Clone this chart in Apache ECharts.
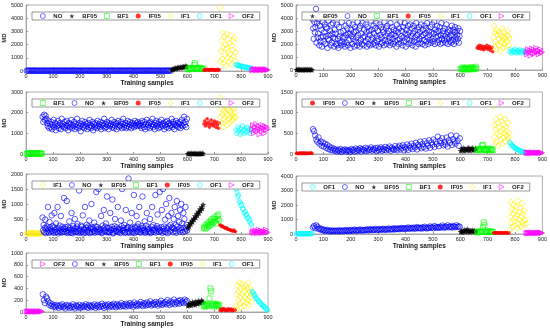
<!DOCTYPE html>
<html><head><meta charset="utf-8">
<script src="https://cdn.jsdelivr.net/npm/echarts@6/dist/echarts.min.js"></script>
<style>html,body{margin:0;padding:0;background:#fff}#c{width:550px;height:332px}</style>
</head><body><div id="c"></div>
<script>
// ---- tick / axis settings ----
const xTicks = [0,100,200,300,400,500,600,700,800,900];
const yMaxes = [5000,5000,3000,1500,2000,4000,1000];
const yIntervals = [1000,1000,1000,500,500,1000,200];

// ---- class order per panel (x order == legend order) ----
const p1Order = ['NO','BF05','BF1','IF05','IF1','OF1','OF2'];
const p2Order = ['BF05','NO','BF1','IF05','IF1','OF1','OF2'];
const p3Order = ['BF1','NO','BF05','IF05','IF1','OF1','OF2'];
const p4Order = ['IF05','NO','BF05','BF1','IF1','OF1','OF2'];
const p5Order = ['IF1','NO','BF05','BF1','IF05','OF1','OF2'];
const p6Order = ['OF1','NO','BF05','BF1','IF05','IF1','OF2'];
const p7Order = ['OF2','NO','BF05','BF1','IF05','IF1','OF1'];

// ---- panel 1 (NO model) ----
const p1_NO = [20,35,12,40,25,8,30,45,18,27,10,38,22,15,33,28,5,41,19,26,14,36,24,9,31,44,17,29,11,37,21,16,34,27,6,42,20,25,13,39,23,10,32,46,18,30,12,36,22,15,35,28,7,40,19,26,14,38,24,9,31,43,17,29,11,37,21,16,33,27,6,41,20,25,13,39,23,10,32,45,18,30,12,36,22,15,35,28,7,40,19,26,14,38,24,9,31,43,17,29,11,37,21,16,33,27,6,41,20,25,13,39,23,10,32,45,18,30,12,36,22,15,35,28,7,40,19,26,14,38,24,9,31,43,17];
const p1_BF05 = [90,150,120,200,170,230,190,260,220,280,250,310,240,330,290,350,300,380,320,360];
const p1_BF1 = [120,180,150,220,130,200,250,170,460,600,210,160,230,140,190,250,170,210,150,190];
const p1_IF05 = [60,110,40,90,130,70,100,50,120,80,140,60,90,110,40,100,70,130,50,90];
const p1_IF1 = [4800,700,1500,2300,900,2900,1800,600,2600,1200,2000,400,1700,2800,1000,2400,1500,700,2100,1300,2700,900,1900,500,1600,2300,1100,2500,800,1400];
const p1_OF1 = [480,450,430,420,400,380,370,350,340,320,300,290,280,260,250,240,230,220,210,200];
const p1_OF2 = [60,120,90,150,40,110,80,140,70,130,50,100,160,90,60,120,80,140,100,70];

// ---- panel 2 (BF05 model) ----
const p2_BF05 = [20,40,10,50,30,15,45,25,5,35,20,50,10,40,30,15,45,25,35,20];
const p2_NO = [3900,3200,2400,3700,2900,3300,4700,2100,3600,2500,2800,3900,1900,3400,2200,2500,3100,1800,3700,2600,
  2200,2900,3500,2000,3300,2600,3200,1700,2400,3800,2300,2700,3000,1900,3500,2100,2800,3600,2500,1800,
  3100,2400,2800,2000,3500,1900,2400,1700,3300,2600,2100,2900,1900,3700,2200,2500,3000,2000,2500,1800,
  3400,2700,2100,3200,1900,2800,3600,2300,2800,1700,3100,2600,2000,3500,2400,2900,1800,3300,2200,3000,
  2500,1900,3700,2700,2100,3200,1800,3400,2300,2800,2000,3600,2500,1900,3100,2600,2200,3500,2900,1800,
  3300,2400,2000,3000,2700,1900,3800,2300,3100,2500,2000,3400,2800,2100,3200,1900,3600,2600,2200,3000,
  2400,1800,3500,2700,2000,3300,2500,2100,3100,2900,1900,3700,2300,2600,3200,2000,3400,2800,2200,3000,
  2500,1900,3600,2100,2700,3300,2400,2000,3100,2800,2200,2600,3000,1800,3500,2300,2900,2000,3200,2400,
  3700,2100,2600,3000,1900,3300,2500,2200,3600,2800,1800,3100,2400,2700,3400,2000,2900,2300,3500,2100,
  2600,3200,1900,2800,3400,2200,3000,2500,1800,3600,2300,2700,3100,2000,3300,2400,2900,2100,3500,2600,
  2000,3100,2700,2300,3400,1900,2800,3200,2200,3600,2500,2000,3000,2700,2300,3300,2100,2900,3500,2400,
  2200,2800,3700,2000,3100,2500,2900,3400,2100,2600,3000,2300,3300,2000,2700,3600,2400,2100,3000,2800,
  2300,3200,2600,2100,3500,2400,2900,2000,3100,2500,2200,3000,2700,2100,3400,2600,2300,3100,2000,2900,
  3300,2500,2200,3000,2700,2400,3200,2100,2600,3000];
const p2_BF1 = [50,120,80,200,30,150,100,60,180,90,40,130,70,220,110,50,160,80,250,100];
const p2_IF05 = [1700,1800,1650,1900,1750,1600,1850,1700,1550,1800,1650,1750,1900,1600,1700,1800,1500,1650,1750,1400];
const p2_IF1 = [2500,3400,1800,2900,2200,3100,1600,2700,2000,3000,2400,1900,2800,1500,2600,2100,3200,2300,1700,2500,2900,2000,2400,1800,2700,2200,3000,2600,1900,2400];
const p2_OF1 = [1400,1550,1300,1450,1500,1350,1600,1400,1300,1500,1450,1350,1550,1400,1300,1450,1500,1350,1400,1450];
const p2_OF2 = [1400,1200,1600,1350,1500,1100,1450,1650,1300,1550,1250,1400,1700,1350,1500,1200,1450,1600,1300,1400];

// ---- panel 3 (BF1 model) ----
const p3_BF1 = [10,30,5,25,15,35,20,8,28,12,32,18,6,26,14,34,22,9,30,16];
const p3_NO = [1800,1550,1900,1650,1850,1700,1500,1350,1600,1250,1450,1300,1550,1200,1400,1650,1300,1500,1150,1450,1350,1600,1250,1400,1500,1200,1700,1350,1450,1300,1550,1250,1400,1600,1350,1150,1500,1300,1450,1650,1250,1400,1350,1550,1200,1450,1300,1700,1400,1250,1500,1350,1100,1450,1600,1300,1400,1250,1550,1350,1450,1200,1500,1300,1650,1400,1250,1350,1550,1150,1450,1300,1500,1400,1250,1600,1350,1450,1300,1550,1200,1400,1500,1350,1700,1250,1450,1300,1550,1400,1200,1500,1350,1450,1650,1300,1400,1250,1550,1350,1450,1200,1500,1600,1300,1400,1350,1550,1250,1450,1700,1300,1400,1500,1250,1350,1600,1450,1300,1550,1400,1250,1500,1350,1450,1300,1600,1400,1500,1350,1550,1450,1400,
  1350,1500,1250,1600,1400,1300,1550,1200,1450,1650,1300,1400,1500,1250,1550,1350,1450,1700,1300,1400,1200,1500,1600,1350,1450,1250,1550,1400,1300,1650,1450,1350,1500,1200,1400,1550,1300,1600,1450,1250,1500,1350,1400,1700,1300,1550,1450,1200,1400,1600,1350,1500,1300,1450,1550,1250,1400,1650,1350,1500,1800,1400,1550,1300,1700];
const p3_BF05 = [15,30,8,25,20,35,10,28,18,32,12,24,6,30,16,26,22,10,34,20];
const p3_IF05 = [1450,1600,1350,1500,1700,1400,1550,1300,1450,1650,1400,1500,1350,1600,1450,1300,1550,1400,1250,1500];
const p3_IF1 = [2700,1800,2200,1500,2400,1900,1300,2100,1700,2500,2000,1600,2300,1400,1900,2200,1700,2100,1500,2400,1800,2000,1600,2300,1900,1700,2200,1800,2000,1750];
const p3_OF1 = [1150,1000,1300,1100,1200,950,1250,1050,1350,1150,1000,1200,1100,1300,1050,1250,1150,1000,1200,1100];
const p3_OF2 = [1200,1400,1000,1300,1150,1450,1100,1250,1350,950,1200,1300,1100,1400,1250,1000,1350,1150,1300,1200];

// ---- panel 4 (IF05 model) ----
const p4_IF05 = [10,25,5,20,15,30,8,22,12,28,18,6,24,14,26,10,20,16,28,12];
const p4_NO = [600,550,450,350,300,400,250,300,200,280,180,250,150,220,120,180,100,150,90,130,80,110,60,100,70,120,50,90,80,110,60,100,70,90,50,120,80,100,60,130,70,110,90,140,60,120,100,80,150,70,130,90,110,160,80,120,100,140,70,150,90,120,160,80,130,100,170,90,140,110,180,80,150,120,100,190,130,90,160,200,110,150,210,90,170,130,230,100,190,150,250,120,200,160,270,110,220,180,300,140,240,170,310,130,260,200,330,150,280,220,350,170,300,240,420,190,320,260,380,210,290,230,400,180,330,270,450,220,360,300,250,440,320,200,380];
const p4_BF05 = [80,120,100,150,70,130,110,90,140,100,160,80,120,110,150,90,130,100,140,120];
const p4_BF1 = [100,110,90,120,100,130,200,220,110,100,90,120,110,100,130,90,120,100,110,90];
const p4_IF1 = [1150,400,700,250,600,850,300,500,750,200,650,450,900,350,550,800,250,600,400,700,500,850,300,650,450,550,350,750,400,500];
const p4_OF1 = [280,240,220,200,180,160,150,130,120,110,100,90,80,70,60,55,50,45,40,35];
const p4_OF2 = [30,20,40,25,35,15,30,45,20,35,25,40,30,20,35,25,30,40,20,30];

// ---- panel 5 (IF1 model) ----
const p5_IF1 = [10,25,5,20,15,30,8,22,12,28,18,6,24,14,26,10,20,16,28,12];
const p5_NO = [550,120,300,60,200,480,30,180,250,90,900,150,40,400,220,80,150,620,100,260,
  40,220,700,130,50,350,180,80,900,20,200,110,280,60,600,150,50,240,90,170,
  1200,70,170,230,90,1100,30,240,130,60,420,200,140,40,700,110,30,260,180,110,
  500,60,190,70,250,330,100,40,1450,160,120,50,280,240,90,620,20,180,130,900,
  40,210,300,80,140,250,70,450,30,210,160,1000,60,220,160,110,380,40,100,250,
  1400,150,230,60,1500,180,80,120,150,600,30,50,280,180,800,90,120,240,350,60,
  1250,200,90,50,190,60,700,130,140,240,1150,20,40,170,260,500,90,110,220,70,
  900,180,70,130,170,30,450,260,1500,100,130,200,300,40,60,800,150,200,60,230,
  1850,90,40,380,150,210,700,80,50,170,1300,30,240,190,110,600,250,70,330,140,
  900,60,180,50,260,120,1250,200,130,90,420,40,80,280,700,150,220,60,160,110,
  500,30,60,240,900,130,300,80,140,190,1300,50,110,260,650,160,200,70,1400,120,
  90,230,800,40,1500,170,250,100,480,60,1000,200,150,30,600,250,1200,90,300,140,
  700,220,200,60,500,180,900,100,300,40,1100,250,600,150,400,80,800,200,1000,130,
  350,60,700,210,500,90,900,170,300,120];
const p5_BF05 = [200,300,250,380,330,450,400,520,480,600,550,680,620,750,700,830,780,900,850,980];
const p5_BF1 = [200,250,180,300,220,350,270,400,300,450,350,500,400,550,450,350,600,500,650,450];
const p5_IF05 = [300,280,250,270,230,220,200,190,210,170,160,150,140,130,120,110,100,130,90,80];
const p5_OF1 = [1500,1380,1250,1300,1100,1050,950,980,850,820,700,750,620,650,520,550,430,480,350,300];
const p5_OF2 = [50,100,30,80,120,60,20,90,140,40,70,110,30,80,60,100,40,150,70,50];

// ---- panel 6 (OF1 model) ----
const p6_OF1 = [10,30,5,25,15,40,20,8,35,12,28,18,6,32,14,26,22,10,38,20];
const p6_NO = [450,550,400,600,500,350,400,300,350,250,300,200,250,280,200,230,180,250,200,220,190,240,210,180,260,200,230,190,250,210,270,220,200,260,230,280,210,250,300,240,220,270,250,310,230,280,260,240,300,270,320,250,290,330,260,300,280,350,270,310,290,340,280,320,360,300,290,340,310,380,300,330,350,310,400,320,360,340,390,330,370,420,350,380,340,410,370,450,360,390,420,380,440,360,400,480,390,430,410,370,460,400,500,420,380,450,410,520,430,470,400,550,440,480,460,420,500,450,580,470,430,510,480,600,460,520,490,440,550,500,470,600,480,530,500];
const p6_BF05 = [150,200,120,250,180,300,140,220,350,170,260,130,230,190,280,150,210,240,170,200];
const p6_BF1 = [120,150,180,130,160,140,170,450,800,600,150,130,170,140,160,180,150,130,170,150];
const p6_IF05 = [70,90,60,100,80,50,90,70,100,60,80,90,50,70,100,80,60,90,70,80];
const p6_IF1 = [300,1200,2200,800,1700,500,1400,2000,900,1600,600,1100,1900,400,1300,2300,700,1500,1000,1800,500,1200,2100,800,1400,600,1600,900,1000,700];
const p6_OF2 = [60,90,40,100,70,50,110,80,60,90,40,100,70,80,50,90,110,60,80,70];

// ---- panel 7 (OF2 model) ----
const p7_OF2 = [5,12,3,10,8,15,6,11,4,14,9,2,13,7,10,5,12,8,15,6];
const p7_NO = [300,200,150,260,230,180,120,150,100,130,90,110,80,120,100,70,110,90,130,80,100,60,120,90,110,70,100,80,130,90,60,110,100,80,120,70,90,110,80,100,130,90,70,120,100,80,110,90,130,70,100,120,80,110,90,140,100,70,120,90,110,130,80,100,120,90,140,110,80,130,100,120,90,150,110,100,130,90,140,120,100,150,110,130,90,160,120,100,140,110,130,170,120,100,150,130,110,160,120,140,180,110,130,150,120,170,140,110,160,130,190,120,150,140,170,130,200,150,120,180,140,160,210,130,170,150,190,140,200,160,180,150,210,170,190];
const p7_BF05 = [100,130,120,150,110,140,170,130,160,120,180,150,140,190,160,170,150,200,180,160];
const p7_BF1 = [100,120,90,130,110,140,100,230,400,350,120,110,130,90,140,120,110,130,100,120];
const p7_IF05 = [30,50,20,40,60,30,50,20,40,30,55,25,45,35,50,20,40,30,45,35];
const p7_IF1 = [100,300,50,450,200,350,500,150,400,250,80,480,300,180,420,100,350,250,450,150,300,400,200,500,120,350,250,400,180,300];
const p7_OF1 = [350,330,300,280,250,230,220,200,180,170,150,140,120,110,100,90,70,60,40,30];

// ---- assemble ----
const orders = [p1Order,p2Order,p3Order,p4Order,p5Order,p6Order,p7Order];
const values = [
  [p1_NO,p1_BF05,p1_BF1,p1_IF05,p1_IF1,p1_OF1,p1_OF2],
  [p2_BF05,p2_NO,p2_BF1,p2_IF05,p2_IF1,p2_OF1,p2_OF2],
  [p3_BF1,p3_NO,p3_BF05,p3_IF05,p3_IF1,p3_OF1,p3_OF2],
  [p4_IF05,p4_NO,p4_BF05,p4_BF1,p4_IF1,p4_OF1,p4_OF2],
  [p5_IF1,p5_NO,p5_BF05,p5_BF1,p5_IF05,p5_OF1,p5_OF2],
  [p6_OF1,p6_NO,p6_BF05,p6_BF1,p6_IF05,p6_IF1,p6_OF2],
  [p7_OF2,p7_NO,p7_BF05,p7_BF1,p7_IF05,p7_IF1,p7_OF1]
];

const STAR = 'path://M0,-10L2.35,-3.24L9.51,-3.09L3.8,1.24L5.88,8.09L0,4L-5.88,8.09L-3.8,1.24L-9.51,-3.09L-2.35,-3.24Z';
const TRI_RIGHT = 'path://M0,0L10,5L0,10Z';
const styles = {
  NO:   {symbol:'circle', size:5.5, item:{color:'transparent', borderColor:'#0000ff', borderWidth:0.8}},
  BF05: {symbol:STAR, size:6, item:{color:'#000000'}},
  BF1:  {symbol:'rect', size:5, item:{color:'transparent', borderColor:'#00ff00', borderWidth:0.8}},
  IF05: {symbol:'circle', size:3.5, item:{color:'#ff0000'}},
  IF1:  {symbol:'diamond', size:6, item:{color:'transparent', borderColor:'#ffee00', borderWidth:0.8}},
  OF1:  {symbol:'circle', size:4.5, item:{color:'transparent', borderColor:'#00ffff', borderWidth:0.8}},
  OF2:  {symbol:TRI_RIGHT, size:5, item:{color:'transparent', borderColor:'#ff00ff', borderWidth:0.8}}
};

const grids = [
  {left:26, top:5, width:242, height:66},
  {left:296, top:5, width:247, height:65},
  {left:26, top:92, width:242, height:62},
  {left:296, top:92, width:247, height:62},
  {left:26, top:174, width:242, height:60},
  {left:296, top:176, width:247, height:58},
  {left:26, top:253, width:242, height:59}
];

const FONT = "'Liberation Sans', Arial, sans-serif";
const xAxes = [], yAxes = [], series = [], legends = [];
grids.forEach((g, k) => {
  xAxes.push({
    gridIndex:k, type:'value', min:xTicks[0], max:xTicks[xTicks.length-1], interval:100,
    name:'Training samples', nameLocation:'middle', nameGap:8,
    nameTextStyle:{fontSize:6.5, fontWeight:'bold', color:'#222', fontFamily:FONT},
    axisLine:{show:true, lineStyle:{color:'#999', width:0.8}},
    axisTick:{show:true, inside:true, length:2, lineStyle:{color:'#999'}},
    axisLabel:{fontSize:5.5, color:'#222', margin:2, fontFamily:FONT, formatter:v => String(v)},
    splitLine:{show:false}
  });
  yAxes.push({
    gridIndex:k, type:'value', min:0, max:yMaxes[k], interval:yIntervals[k],
    name:'MD', nameLocation:'middle', nameGap:15,
    nameTextStyle:{fontSize:6, fontWeight:'bold', color:'#222', fontFamily:FONT},
    axisLine:{show:true, lineStyle:{color:'#999', width:0.8}},
    axisTick:{show:true, inside:true, length:2, lineStyle:{color:'#999'}},
    axisLabel:{fontSize:5.5, color:'#222', margin:3, fontFamily:FONT, formatter:v => String(v)},
    splitLine:{show:false}
  });
  let start = 0;
  orders[k].forEach((name, gi) => {
    const v = values[k][gi];
    const len = name === 'NO' ? 540 : 60;
    const n = v.length;
    const st = styles[name];
    series.push({
      type:'scatter', name:name, xAxisIndex:k, yAxisIndex:k,
      symbol:st.symbol, symbolSize:st.size,
      itemStyle:st.item, clip:false, silent:true,
      data: v.map((y, i) => [start + (i + 0.5) * len / n, y])
    });
    start += len;
  });
  legends.push({
    data: orders[k], orient:'horizontal', left:g.left + 6, top:g.top + 7,
    itemWidth:5, itemHeight:5, itemGap:7, padding:[1,6,1,8], symbolKeepAspect:true,
    itemStyle:{borderWidth:0.7},
    backgroundColor:'#fff', borderColor:'#555', borderWidth:0.6,
    textStyle:{fontSize:6, fontWeight:'bold', color:'#222', fontFamily:FONT, padding:[0,0,0,3]},
    selectedMode:false
  });
});

const chart = echarts.init(document.getElementById('c'), null, {renderer:'canvas'});
chart.setOption({
  animation:false,
  backgroundColor:'#fff',
  grid: grids.map(g => Object.assign({show:true, borderColor:'#999', borderWidth:0.8, backgroundColor:'transparent'}, g)),
  xAxis:xAxes, yAxis:yAxes, legend:legends, series:series
});
</script></body></html>
